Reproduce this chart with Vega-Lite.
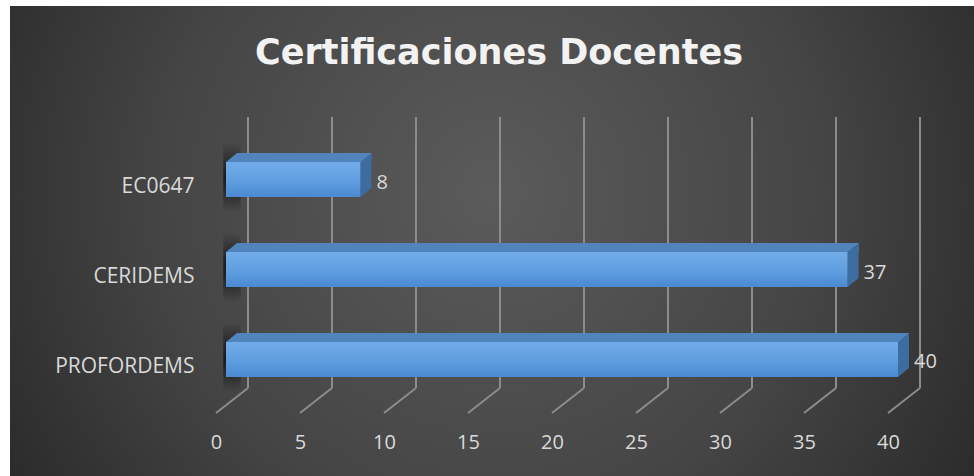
{
  "$schema": "https://vega.github.io/schema/vega-lite/v6.json",
  "width": 964,
  "height": 470,
  "autosize": {"type": "none"},
  "padding": {"left": 10, "top": 6, "right": 0, "bottom": 0},
  "background": "#ffffff",
  "view": {
    "stroke": null,
    "fill": {
      "gradient": "radial",
      "x1": 0.5, "y1": 0.45, "r1": 0,
      "x2": 0.5, "y2": 0.45, "r2": 0.62,
      "stops": [
        {"offset": 0, "color": "#5b5b5b"},
        {"offset": 0.55, "color": "#454545"},
        {"offset": 1, "color": "#272727"}
      ]
    }
  },
  "title": {
    "text": "Certificaciones Docentes",
    "font": "DejaVu Sans",
    "fontSize": 35,
    "fontWeight": "bold",
    "color": "#f2f2f2",
    "anchor": "middle",
    "baseline": "alphabetic",
    "offset": -93,
    "dx": 7
  },
  "datasets": {
    "bars": [
      {"cat": "EC0647", "value": 8},
      {"cat": "CERIDEMS", "value": 37},
      {"cat": "PROFORDEMS", "value": 40}
    ],
    "ticks": [
      {"v": 0}, {"v": 5}, {"v": 10}, {"v": 15}, {"v": 20},
      {"v": 25}, {"v": 30}, {"v": 35}, {"v": 40}
    ]
  },
  "layer": [
    {
      "data": {"name": "ticks"},
      "mark": {"type": "tick", "orient": "vertical", "color": "#8c8c8c", "opacity": 1, "thickness": 2, "size": 271, "xOffset": 32, "yOffset": -17},
      "encoding": {
        "x": {
          "field": "v", "type": "quantitative", "title": null,
          "scale": {"domain": [0, 40], "range": [206, 878], "nice": false, "zero": false},
          "axis": {
            "orient": "bottom", "offset": -33.5, "values": [0, 5, 10, 15, 20, 25, 30, 35, 40],
            "domain": false, "ticks": false, "tickSize": 0, "grid": false,
            "labelPadding": 0, "labelBaseline": "middle", "labelFont": "Open Sans",
            "labelFontSize": 20, "labelColor": "#d9d9d9", "labelFlush": false, "labelOverlap": false
          }
        },
        "y": {"datum": "CERIDEMS", "type": "nominal", "title": null}
      }
    },
    {
      "data": {"name": "ticks"},
      "mark": {
        "type": "point", "filled": false, "opacity": 1, "stroke": "#8c8c8c", "strokeWidth": 2,
        "shape": "M-1,0.78L1,-0.78", "size": 1024,
        "xOffset": 16, "yOffset": 41
      },
      "encoding": {
        "x": {"field": "v", "type": "quantitative", "title": null},
        "y": {"datum": "PROFORDEMS", "type": "nominal", "title": null}
      }
    },
    {
      "data": {"name": "bars"},
      "mark": {
        "type": "point", "filled": true, "opacity": 1, "strokeWidth": 0,
        "shape": "M-0.25,-1L0.25,-1L0.25,1L-0.25,1Z", "size": 4900,
        "xOffset": 16, "yOffset": -2,
        "fill": {
          "gradient": "radial", "x1": 0.5, "y1": 0.5, "r1": 0, "x2": 0.5, "y2": 0.5, "r2": 0.5,
          "stops": [
            {"offset": 0, "color": "rgba(0,0,0,0.75)"},
            {"offset": 1, "color": "rgba(0,0,0,0)"}
          ]
        }
      },
      "encoding": {
        "x": {"datum": 0, "type": "quantitative", "title": null},
        "y": {"field": "cat", "type": "nominal", "title": null}
      }
    },
    {
      "data": {"name": "bars"},
      "mark": {"type": "bar", "color": "#5284bc", "height": 9, "xOffset": 21, "x2Offset": 21, "yOffset": -22},
      "encoding": {
        "x": {"field": "value", "type": "quantitative", "title": null},
        "y": {"field": "cat", "type": "nominal", "title": null}
      }
    },
    {
      "data": {"name": "bars"},
      "mark": {
        "type": "point", "filled": true, "opacity": 1, "strokeWidth": 0, "color": "#5284bc",
        "shape": "M-1,0.818L1,-0.818L1,0.818Z", "size": 121,
        "xOffset": 15.5, "yOffset": -22
      },
      "encoding": {
        "x": {"datum": 0, "type": "quantitative", "title": null},
        "y": {"field": "cat", "type": "nominal", "title": null}
      }
    },
    {
      "data": {"name": "bars"},
      "mark": {
        "type": "point", "filled": true, "opacity": 1, "strokeWidth": 0, "color": "#3d6ca1",
        "shape": "M-0.25,-0.591L0.25,-1L0.25,0.591L-0.25,1Z", "size": 1936,
        "xOffset": 15.5, "yOffset": -4.5
      },
      "encoding": {
        "x": {"field": "value", "type": "quantitative", "title": null},
        "y": {"field": "cat", "type": "nominal", "title": null}
      }
    },
    {
      "data": {"name": "bars"},
      "mark": {
        "type": "bar", "xOffset": 10, "x2Offset": 10,
        "color": {
          "gradient": "linear", "x1": 0, "y1": 0, "x2": 0, "y2": 1,
          "stops": [
            {"offset": 0, "color": "#72acea"},
            {"offset": 0.5, "color": "#609fe0"},
            {"offset": 1, "color": "#4b8ad2"}
          ]
        }
      },
      "encoding": {
        "x": {"field": "value", "type": "quantitative", "title": null},
        "y": {
          "field": "cat", "type": "nominal", "title": null,
          "scale": {
            "type": "band",
            "domain": ["EC0647", "CERIDEMS", "PROFORDEMS"],
            "range": [128.5, 398.5],
            "paddingInner": 0.6111,
            "paddingOuter": 0.30556
          },
          "axis": {
            "orient": "left", "offset": -184, "domain": false, "ticks": false, "tickSize": 0,
            "grid": false, "labelPadding": 0, "labelOffset": 7.5, "labelFont": "Open Sans",
            "labelFontSize": 21, "labelColor": "#d9d9d9", "labelAlign": "right", "labelBaseline": "middle"
          }
        }
      }
    },
    {
      "data": {"name": "bars"},
      "mark": {"type": "text", "align": "left", "baseline": "middle", "xOffset": 26, "yOffset": 3, "font": "Open Sans", "fontSize": 20, "color": "#d9d9d9"},
      "encoding": {
        "x": {"field": "value", "type": "quantitative", "title": null},
        "y": {"field": "cat", "type": "nominal", "title": null},
        "text": {"field": "value", "type": "quantitative"}
      }
    }
  ]
}
